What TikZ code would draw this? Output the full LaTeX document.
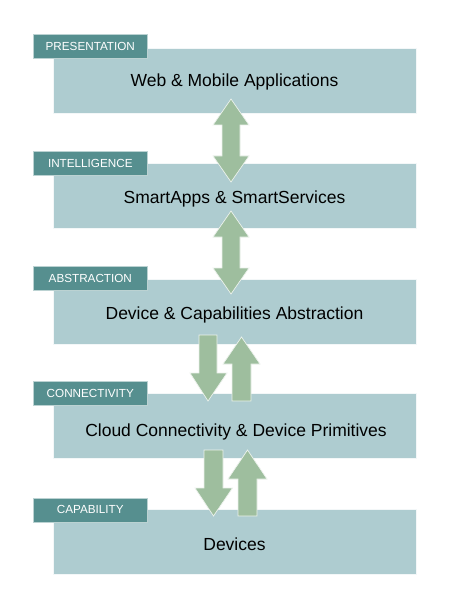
\documentclass[tikz,border=0pt]{standalone}
\usepackage{fontspec}
\setmainfont{Liberation Sans}
\definecolor{boxfill}{RGB}{174,204,208}
\definecolor{tabfill}{RGB}{86,143,143}
\definecolor{arrowfill}{RGB}{158,190,158}
\begin{document}
\begin{tikzpicture}[x=1pt,y=-1pt,
  layerbox/.style={fill=boxfill,draw=white!85!boxfill,line width=0.6pt,minimum width=363pt,minimum height=65pt,inner sep=0pt,anchor=north west},
  layertext/.style={anchor=base,inner sep=0pt,font=\fontsize{17.5}{20}\selectfont},
  tabbox/.style={fill=tabfill,draw=white!60!tabfill,line width=0.6pt,minimum width=114pt,minimum height=24pt,inner sep=0pt,anchor=north west,text=white,font=\fontsize{11.7}{13}\selectfont},
  bigarrow/.style={fill=arrowfill,draw=white!80!arrowfill,line width=0.7pt,line join=miter}]
\useasboundingbox (0,0) rectangle (452,612);
\fill[white] (0,0) rectangle (452,612);
% layers
\node[layerbox] (b1) at (53,48) {};
\node[layerbox] (b2) at (53,163) {};
\node[layerbox] (b3) at (53,278.5) {};
\node[layerbox] (b4) at (53,393) {};
\node[layerbox] (b5) at (53,509) {};
\node[layertext] (l1) at (234.5,87) {Web \& Mobile Applications};
\node[layertext] (l2) at (234.5,204) {SmartApps \& SmartServices};
\node[layertext] (l3) at (234.5,319) {Device \& Capabilities Abstraction};
\node[layertext] (l4) at (236,436) {Cloud Connectivity \& Device Primitives};
\node[layertext] (l5) at (234.5,550) {Devices};
% tabs
\node[tabbox] (t1) at (33,34) {PRESENTATION};
\node[tabbox] (t2) at (33,151.5) {INTELLIGENCE};
\node[tabbox] (t3) at (33,266) {ABSTRACTION};
\node[tabbox] (t4) at (33,381) {CONNECTIVITY};
\node[tabbox] (t5) at (33,497.5) {CAPABILITY};
% double arrows
\draw[bigarrow] (231,99) -- (249,125) -- (240,125) -- (240,156) -- (249,156) -- (231,182)
  -- (213,156) -- (222,156) -- (222,125) -- (213,125) -- cycle;
\draw[bigarrow] (231,211) -- (249,237) -- (240,237) -- (240,268) -- (249,268) -- (231,294)
  -- (213,268) -- (222,268) -- (222,237) -- (213,237) -- cycle;
% split arrows 3-4
\draw[bigarrow] (199,335) -- (217,335) -- (217,373) -- (227,373) -- (208,401) -- (190,373) -- (199,373) -- cycle;
\draw[bigarrow] (232,401) -- (251,401) -- (251,364) -- (260,364) -- (241.5,337) -- (223,364) -- (232,364) -- cycle;
% split arrows 4-5
\draw[bigarrow] (204,450) -- (223,450) -- (223,488) -- (232.5,488) -- (213.5,516) -- (195,488) -- (204,488) -- cycle;
\draw[bigarrow] (238,516) -- (257,516) -- (257,479) -- (267,479) -- (247.5,450) -- (228,479) -- (238,479) -- cycle;
\end{tikzpicture}
\end{document}
